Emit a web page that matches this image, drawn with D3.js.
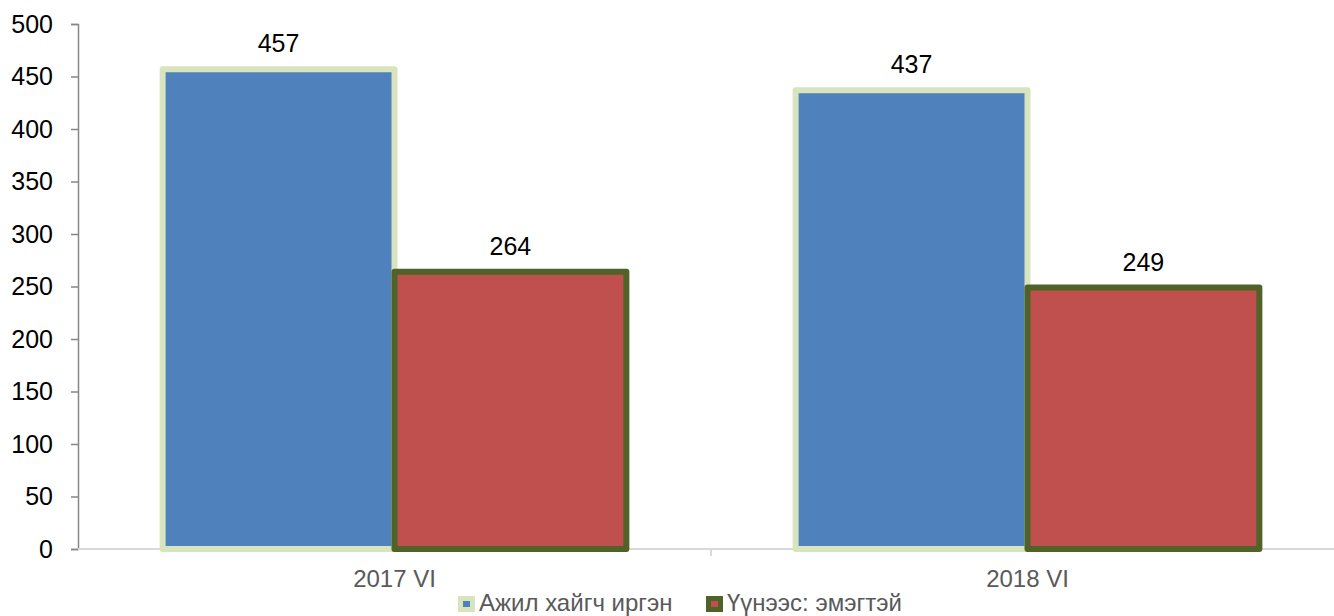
<!DOCTYPE html>
<html>
<head>
<meta charset="utf-8">
<script src="https://cdn.jsdelivr.net/npm/d3@7"></script>
<style>
  body { margin: 0; background: #fff; }
  svg { display: block; font-family: "Liberation Sans", Arial, sans-serif; }
</style>
</head>
<body>
<svg id="chart" width="1334" height="616"></svg>
<script>
// data
var categories = ["2017 VI", "2018 VI"];
var seriesNames = ["Ажил хайгч иргэн", "Үүнээс: эмэгтэй"];
var jobSeekers = [457, 437];
var women = [264, 249];
var yTicks = [0, 50, 100, 150, 200, 250, 300, 350, 400, 450, 500];

var svg = d3.select("#chart");
var margin = { left: 78, top: 24, bottom: 67 };
var width = 1334, height = 616;

// plot area runs a little past the right edge of the picture
var x = d3.scaleBand()
    .domain(categories)
    .range([margin.left, 1344]);

var y = d3.scaleLinear()
    .domain([0, 500])
    .range([height - margin.bottom, margin.top]);

// series style
var fills = ["#4f81bd", "#c0504d"];
var strokes = ["#d7e4bd", "#4f6228"];
var values = [jobSeekers, women];

// bar geometry inside a category
var gap = 0.73;
var barW = x.bandwidth() / (2 + gap);

// y axis
var yAxis = svg.append("g")
    .attr("transform", "translate(" + margin.left + ",0)")
    .call(d3.axisLeft(y).tickValues(yTicks).tickSize(7).tickPadding(18));
yAxis.select(".domain").attr("stroke", "#868686").attr("stroke-width", 1.5);
yAxis.selectAll(".tick line").attr("stroke", "#868686").attr("stroke-width", 1.5);
yAxis.selectAll(".tick text")
    .attr("font-size", 25)
    .attr("fill", "#000")
    .attr("font-family", "Liberation Sans, Arial, sans-serif");

// x axis
var xAxisG = svg.append("g")
    .attr("transform", "translate(0," + y(0) + ")");
xAxisG.append("line")
    .attr("x1", margin.left).attr("x2", width)
    .attr("stroke", "#d9d9d9").attr("stroke-width", 2);
xAxisG.selectAll(".sep")
    .data(categories.slice(1))
    .enter().append("line")
    .attr("x1", function(d) { return x(d); })
    .attr("x2", function(d) { return x(d); })
    .attr("y1", 0).attr("y2", 7)
    .attr("stroke", "#d9d9d9").attr("stroke-width", 2);
xAxisG.selectAll(".cat")
    .data(categories)
    .enter().append("text")
    .attr("x", function(d) { return x(d) + x.bandwidth() / 2; })
    .attr("y", 38)
    .attr("text-anchor", "middle")
    .attr("font-size", 24)
    .attr("fill", "#595959")
    .text(function(d) { return d; });

// bars
values.forEach(function(vals, s) {
    var g = svg.append("g");
    g.selectAll("rect")
        .data(vals)
        .enter().append("rect")
        .attr("x", function(d, i) { return x(categories[i]) + barW * gap / 2 + s * barW; })
        .attr("y", function(d) { return y(d); })
        .attr("width", barW)
        .attr("height", function(d) { return y(0) - y(d); })
        .attr("fill", fills[s])
        .attr("stroke", strokes[s])
        .attr("stroke-width", 6)
        .attr("stroke-linejoin", "round");
    g.selectAll("text")
        .data(vals)
        .enter().append("text")
        .attr("x", function(d, i) { return x(categories[i]) + barW * gap / 2 + s * barW + barW / 2; })
        .attr("y", function(d) { return y(d) - 17; })
        .attr("text-anchor", "middle")
        .attr("font-size", 25)
        .attr("fill", "#000")
        .text(function(d) { return d; });
});

// legend (sits at the very bottom edge, as in the original)
var legend = svg.append("g").attr("transform", "translate(0,604)");
var legX = [458, 706];
seriesNames.forEach(function(name, s) {
    var item = legend.append("g").attr("transform", "translate(" + legX[s] + ",0)");
    item.append("rect")
        .attr("x", 0).attr("y", -8).attr("width", 17).attr("height", 16)
        .attr("fill", strokes[s]);
    item.append("rect")
        .attr("x", 5).attr("y", -3).attr("width", 7).attr("height", 6)
        .attr("fill", fills[s]);
    item.append("text")
        .attr("x", 21).attr("y", 7)
        .attr("font-size", 24)
        .attr("fill", "#595959")
        .text(name);
});
</script>
</body>
</html>
